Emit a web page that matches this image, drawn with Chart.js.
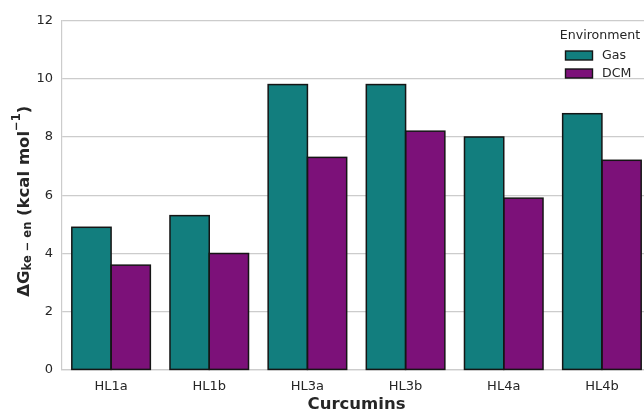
<!DOCTYPE html>
<html>
<head>
<meta charset="utf-8">
<script src="https://cdn.jsdelivr.net/npm/chart.js@4.4.0/dist/chart.umd.min.js"></script>
<style>
html,body{margin:0;padding:0;background:#fff;overflow:hidden;}
#wrap{width:644px;height:412px;position:relative;overflow:hidden;}
#c{position:absolute;left:0;top:0;}
</style>
</head>
<body>
<div id="wrap"><canvas id="c" width="651" height="412"></canvas></div>
<script>
const categories = ["HL1a","HL1b","HL3a","HL3b","HL4a","HL4b"];
const gasValues = [4.9, 5.3, 9.8, 9.8, 8.0, 8.8];
const dcmValues = [3.6, 4.0, 7.3, 8.2, 5.9, 7.2];
const seriesNames = ["Gas","DCM"];
const yTicks = [0, 2, 4, 6, 8, 10, 12];
const legendTitle = "Environment";
const xTitle = "Curcumins";

const FONT = "'DejaVu Sans', sans-serif";
const TEAL = "#127e7e";
const PURPLE = "#7c1179";
const TXT = "#262626";
const EDGE = "#151515";

const barEdgePlugin = {
  id: 'barEdges',
  afterDatasetsDraw(chart) {
    const ctx = chart.ctx;
    ctx.save();
    ctx.strokeStyle = EDGE;
    ctx.lineWidth = 1.5;
    chart.data.datasets.forEach((ds, i) => {
      const meta = chart.getDatasetMeta(i);
      meta.data.forEach(el => {
        const p = el.getProps(['x', 'y', 'width', 'base'], true);
        ctx.strokeRect(p.x - p.width / 2, p.y, p.width, p.base - p.y);
      });
    });
    ctx.restore();
  }
};

const yTitlePlugin = {
  id: 'yTitle',
  afterDraw(chart) {
    const ctx = chart.ctx;
    const area = chart.chartArea;
    const parts = [
      {t: "ΔG", size: 16.5, dy: 0},
      {t: "ke − en", size: 11.5, dy: 3.5},
      {t: " (kcal mol", size: 16.5, dy: 0},
      {t: "−1", size: 11.5, dy: -7},
      {t: ")", size: 16.5, dy: 0}
    ];
    ctx.save();
    let total = 0;
    parts.forEach(p => { ctx.font = "bold " + p.size + "px " + FONT; p.w = ctx.measureText(p.t).width; total += p.w; });
    ctx.translate(24.5, (area.top + area.bottom) / 2 + 6);
    ctx.rotate(-Math.PI / 2);
    ctx.fillStyle = TXT;
    ctx.textBaseline = "middle";
    ctx.textAlign = "left";
    let x = -total / 2;
    parts.forEach(p => {
      ctx.font = "bold " + p.size + "px " + FONT;
      ctx.fillText(p.t, x, p.dy);
      x += p.w;
    });
    ctx.restore();
  }
};

const legendPlugin = {
  id: 'customLegend',
  afterDraw(chart) {
    const ctx = chart.ctx;
    ctx.save();
    ctx.font = "12.6px " + FONT;
    ctx.fillStyle = TXT;
    ctx.textAlign = "center";
    ctx.textBaseline = "middle";
    ctx.fillText(legendTitle, 600, 36);
    chart.data.datasets.forEach((ds, i) => {
      const y = 55.5 + i * 18;
      ctx.fillStyle = ds.backgroundColor;
      ctx.fillRect(565.5, y - 4.5, 27, 9);
      ctx.strokeStyle = EDGE;
      ctx.lineWidth = 1.4;
      ctx.strokeRect(565.5, y - 4.5, 27, 9);
      ctx.fillStyle = TXT;
      ctx.textAlign = "left";
      ctx.fillText(ds.label, 602, y + 0.5);
    });
    ctx.restore();
  }
};

new Chart(document.getElementById('c'), {
  type: 'bar',
  data: {
    labels: categories,
    datasets: [
      {label: seriesNames[0], data: gasValues, backgroundColor: TEAL, borderWidth: 0, inflateAmount: 0},
      {label: seriesNames[1], data: dcmValues, backgroundColor: PURPLE, borderWidth: 0, inflateAmount: 0}
    ]
  },
  options: {
    responsive: false,
    animation: false,
    devicePixelRatio: 1,
    layout: {padding: {top: 20.5, right: 0, left: 0, bottom: 0}},
    datasets: {bar: {categoryPercentage: 0.8, barPercentage: 1.0}},
    plugins: {legend: {display: false}, tooltip: {enabled: false}},
    scales: {
      x: {
        grid: {display: false, drawTicks: false},
        border: {display: true, color: "#cccccc", width: 1.2},
        ticks: {color: TXT, font: {family: FONT, size: 13}, padding: 9},
        title: {display: true, text: xTitle, color: TXT, font: {family: FONT, size: 16.5, weight: 'bold'}, padding: {top: 0, bottom: -3}},
        afterFit(scale) { scale.height = 42; }
      },
      y: {
        min: 0, max: 12,
        afterBuildTicks(scale) { scale.ticks = yTicks.map(v => ({value: v})); },
        grid: {color: "#cccccc", lineWidth: 1.2, drawTicks: false},
        border: {display: true, color: "#cccccc", width: 1.2},
        ticks: {color: TXT, font: {family: FONT, size: 13}, padding: 9},
        afterFit(scale) { scale.width = 62; }
      }
    }
  },
  plugins: [barEdgePlugin, yTitlePlugin, legendPlugin]
});
</script>
</body>
</html>
